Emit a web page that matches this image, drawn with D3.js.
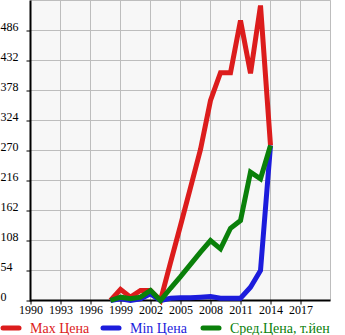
<!DOCTYPE html>
<html>
<head>
<meta charset="utf-8">
<script src="https://cdn.jsdelivr.net/npm/d3@7"></script>
<style>
  html, body { margin: 0; padding: 0; background: #fff; }
  svg { display: block; }
  text { font-family: "Liberation Serif", "Times New Roman", serif; }
</style>
</head>
<body>
<svg id="chart" width="345" height="335"></svg>
<script>
// Price history by model year
const years = [1998, 1999, 2000, 2001, 2002, 2003, 2004, 2005, 2006, 2007, 2008, 2009, 2010, 2011, 2012, 2013, 2014];
const maxPrice = [0, 20, 6, 18, 18, 0, 68, 135, 203, 272, 360, 410, 410, 504, 409, 531, 279];
const minPrice = [0, 3, 0, 3, 12, 0, 4, 5, 5, 6, 7, 4, 4, 4, 24, 54, 279];
const avgPrice = [0, 6, 3, 6, 18, 0, 22, 43, 65, 87, 108, 93, 130, 144, 231, 219, 279];

const xTicks = [1990, 1993, 1996, 1999, 2002, 2005, 2008, 2011, 2014, 2017];
const yTicks = [0, 54, 108, 162, 216, 270, 324, 378, 432, 486];
const xGrid = d3.range(1990, 2021, 3).concat([2020]);
const yGrid = d3.range(0, 541, 54);

const seriesNames = ["Max Цена", "Min Цена", "Сред.Цена, т.йен"];
const seriesColors = ["#dc1c1c", "#1c1cdc", "#0a800a"];
const seriesValues = [maxPrice, minPrice, avgPrice];

const svg = d3.select("#chart");
const x = d3.scaleLinear().domain([1990, 2020]).range([30.5, 330.5]);
const y = d3.scaleLinear().domain([0, 540]).range([300.5, 0.5]);

// plot background
svg.append("rect")
  .attr("x", x(1990)).attr("y", y(540))
  .attr("width", x(2020) - x(1990)).attr("height", y(0) - y(540))
  .attr("fill", "#f7f7f7");

// grid
const grid = svg.append("g").attr("stroke", "#bdbdbd").attr("stroke-width", 1);
grid.selectAll(".gx").data(xGrid.filter(v => v > 1990)).join("line")
  .attr("x1", d => x(d)).attr("x2", d => x(d))
  .attr("y1", y(540)).attr("y2", y(0));
grid.selectAll(".gy").data(yGrid.filter(v => v > 0)).join("line")
  .attr("x1", x(1990)).attr("x2", x(2020))
  .attr("y1", d => y(d)).attr("y2", d => y(d));

// axes
const xAxis = svg.append("g").attr("transform", `translate(0,${y(0)})`)
  .call(d3.axisBottom(x).tickValues(xTicks).tickFormat(d3.format("d")).tickSize(4).tickPadding(1));
const yAxis = svg.append("g").attr("transform", `translate(${x(1990)},0)`)
  .call(d3.axisLeft(y).tickValues(yTicks).tickSize(4).tickPadding(10));
[xAxis, yAxis].forEach(a => {
  a.select(".domain").attr("stroke", "#000").attr("stroke-width", 2);
  a.selectAll(".tick line").attr("stroke", "#000");
  a.selectAll("text").attr("fill", "#000").attr("font-size", 12)
    .style("font-family", "'Liberation Serif', serif");
});
xAxis.select(".domain").attr("d", `M${x(1990)},0H${x(2020)}`);
yAxis.select(".domain").attr("d", `M0,${y(540)}V${y(0) + 1}`);
yAxis.selectAll(".tick text").attr("dy", "0").attr("text-anchor", "start").attr("x", -30);

// series lines
const line = d3.line().x((d, i) => x(years[i])).y(d => y(d));
seriesValues.forEach((vals, k) => {
  svg.append("path")
    .datum(vals)
    .attr("d", line)
    .attr("fill", "none")
    .attr("stroke", seriesColors[k])
    .attr("stroke-width", 5)
    .attr("stroke-linejoin", "miter")
    .attr("stroke-linecap", "butt");
});

// legend
const legend = svg.append("g").attr("transform", "translate(0,328)");
seriesNames.forEach((name, k) => {
  const g = legend.append("g").attr("transform", `translate(${k * 100},0)`);
  g.append("line")
    .attr("x1", 3).attr("x2", 19).attr("y1", 0).attr("y2", 0)
    .attr("stroke", seriesColors[k]).attr("stroke-width", 5)
    .attr("stroke-linecap", "round");
  g.append("text")
    .attr("x", 30).attr("y", 4.5)
    .attr("fill", seriesColors[k])
    .attr("font-size", 14)
    .text(name);
});
</script>
</body>
</html>
